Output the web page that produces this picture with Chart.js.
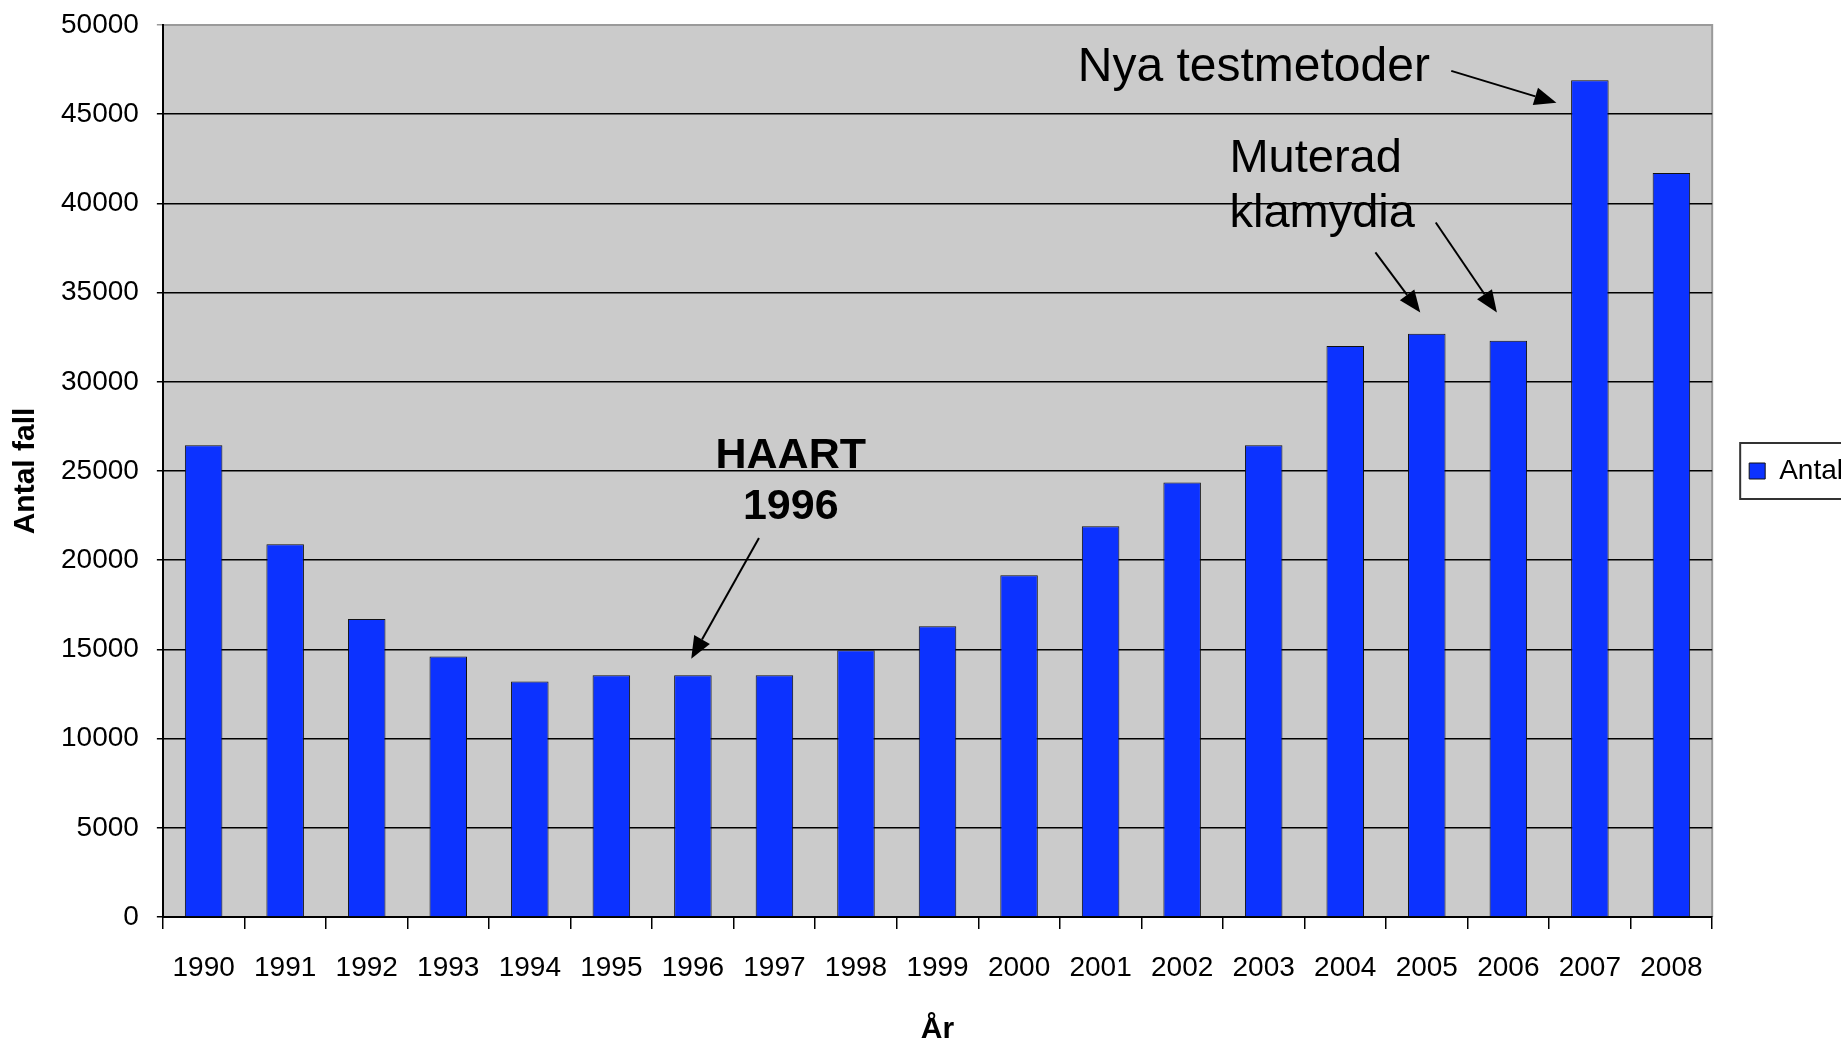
<!DOCTYPE html>
<html>
<head>
<meta charset="utf-8">
<script src="https://cdn.jsdelivr.net/npm/chart.js@4.4.1/dist/chart.umd.min.js"></script>
<style>
  html, body { margin: 0; padding: 0; background: #fff; overflow: hidden; }
  #wrap { width: 1841px; height: 1045px; position: relative; }
</style>
</head>
<body>
<div id="wrap"><canvas id="antalChart"></canvas></div>
<script>
// years on the x axis
const years = ['1990', '1991', '1992', '1993', '1994', '1995', '1996', '1997', '1998', '1999',
               '2000', '2001', '2002', '2003', '2004', '2005', '2006', '2007', '2008'];
// number of cases per year
const antal = [26450, 20900, 16700, 14600, 13200, 13550, 13550, 13550, 14950, 16300,
               19150, 21900, 24350, 26450, 32000, 32700, 32300, 46900, 41700];
const yTicks = [0, 5000, 10000, 15000, 20000, 25000, 30000, 35000, 40000, 45000, 50000];

const FONT = "'Liberation Sans', Arial, sans-serif";

// notes on the chart, anchored in data units (x = category index, y = value)
const notes = [
    { lines: ['Nya testmetoder'], x: 10.72, y: 46870, lineGap: 55, bold: false, size: 48, align: 'left' },
    { lines: ['Muterad', 'klamydia'], x: 12.58, y: 41780, lineGap: 55, bold: false, size: 47, align: 'left' },
    { lines: ['HAART', '1996'], x: 7.2, y: 25170, lineGap: 51, bold: true, size: 43, align: 'center' }
];
const arrows = [
    { from: [15.30, 47430], to: [16.59, 45640] },
    { from: [14.37, 37250], to: [14.92, 33890] },
    { from: [15.11, 38930], to: [15.86, 33890] },
    { from: [6.81, 21250], to: [5.98, 14480] }
];

// grey plot background + frame
const plotBackground = {
    id: 'plotBackground',
    beforeDraw: (chart) => {
        const { ctx, chartArea } = chart;
        ctx.save();
        ctx.fillStyle = '#cbcbcb';
        ctx.fillRect(chartArea.left, chartArea.top, chartArea.right - chartArea.left, chartArea.bottom - chartArea.top);
        ctx.strokeStyle = '#9a9a9a';
        ctx.lineWidth = 2;
        ctx.beginPath();
        ctx.moveTo(chartArea.left, chartArea.top);
        ctx.lineTo(chartArea.right, chartArea.top);
        ctx.lineTo(chartArea.right, chartArea.bottom);
        ctx.stroke();
        ctx.restore();
    }
};

// texts and arrows
const notesPlugin = {
    id: 'notes',
    afterDatasetsDraw: (chart) => {
        const { ctx, scales } = chart;
        const px = (v) => scales.x.getPixelForValue(v);
        const py = (v) => scales.y.getPixelForValue(v);
        ctx.save();
        ctx.fillStyle = '#000';
        ctx.textBaseline = 'alphabetic';
        notes.forEach(n => {
            ctx.font = (n.bold ? 'bold ' : '') + n.size + 'px ' + FONT;
            ctx.textAlign = n.align;
            n.lines.forEach((t, i) => ctx.fillText(t, px(n.x), py(n.y) + i * n.lineGap));
        });
        ctx.strokeStyle = '#000';
        ctx.lineWidth = 2;
        arrows.forEach(a => {
            const x1 = px(a.from[0]), y1 = py(a.from[1]);
            const x2 = px(a.to[0]), y2 = py(a.to[1]);
            const ang = Math.atan2(y2 - y1, x2 - x1);
            const len = 22, half = 9;
            const bx = x2 - len * Math.cos(ang), by = y2 - len * Math.sin(ang);
            ctx.beginPath();
            ctx.moveTo(x1, y1);
            ctx.lineTo(bx, by);
            ctx.stroke();
            ctx.beginPath();
            ctx.moveTo(x2, y2);
            ctx.lineTo(bx + half * Math.sin(ang), by - half * Math.cos(ang));
            ctx.lineTo(bx - half * Math.sin(ang), by + half * Math.cos(ang));
            ctx.closePath();
            ctx.fill();
        });
        ctx.restore();
    }
};

// frame round the legend
const legendFrame = {
    id: 'legendFrame',
    afterDraw: (chart) => {
        const lg = chart.legend;
        if (!lg || !lg.legendHitBoxes || !lg.legendHitBoxes.length) return;
        const hb = lg.legendHitBoxes[0];
        const { ctx } = chart;
        const cy = hb.top + hb.height / 2;
        ctx.save();
        ctx.strokeStyle = '#333';
        ctx.lineWidth = 2;
        ctx.strokeRect(hb.left - 9, cy - 28, chart.width - hb.left + 20, 56);
        ctx.restore();
    }
};

const ctx = document.getElementById('antalChart').getContext('2d');
const antalChart = new Chart(ctx, {
    type: 'bar',
    data: {
        labels: years,
        datasets: [{
            label: 'Antal',
            data: antal,
            backgroundColor: '#0c32ff',
            borderColor: '#111',
            borderWidth: 1,
            barPercentage: 0.46,
            categoryPercentage: 1.0
        }]
    },
    options: {
        responsive: true,
        maintainAspectRatio: false,
        animation: false,
        layout: {
            padding: { top: 25, left: 11, right: -12, bottom: 0 }
        },
        scales: {
            x: {
                offset: true,
                grid: {
                    display: true,
                    offset: true,
                    drawOnChartArea: false,
                    drawTicks: true,
                    tickLength: 12,
                    color: '#000',
                    lineWidth: 1.5
                },
                border: { display: true, color: '#000', width: 2 },
                ticks: {
                    color: '#000',
                    padding: 25,
                    maxRotation: 0,
                    autoSkip: false,
                    font: { size: 28, family: FONT, lineHeight: 1 }
                },
                title: {
                    display: true,
                    text: 'År',
                    color: '#000',
                    font: { size: 30, weight: 'bold', family: FONT, lineHeight: 1 },
                    padding: { top: 8, bottom: 0 }
                }
            },
            y: {
                min: 0,
                max: 50000,
                afterBuildTicks: (scale) => { scale.ticks = yTicks.map(v => ({ value: v })); },
                grid: {
                    color: (c) => (c.tick && c.tick.value === 50000) ? '#9a9a9a' : '#000',
                    lineWidth: 1.5,
                    tickLength: 6
                },
                border: { display: true, color: '#000', width: 2 },
                ticks: {
                    color: '#000',
                    padding: 18,
                    callback: (v) => String(v),
                    font: { size: 28, family: FONT, lineHeight: 0.25 }
                },
                title: {
                    display: true,
                    text: 'Antal fall',
                    color: '#000',
                    font: { size: 30, weight: 'bold', family: FONT, lineHeight: 1 },
                    padding: { top: 0, bottom: 2 }
                }
            }
        },
        plugins: {
            legend: {
                display: true,
                position: 'right',
                fullSize: false,
                labels: {
                    color: '#000',
                    font: { size: 28, family: FONT },
                    boxWidth: 16,
                    boxHeight: 16,
                    padding: 37
                }
            },
            tooltip: { enabled: false }
        }
    },
    plugins: [plotBackground, notesPlugin, legendFrame]
});
</script>
</body>
</html>
